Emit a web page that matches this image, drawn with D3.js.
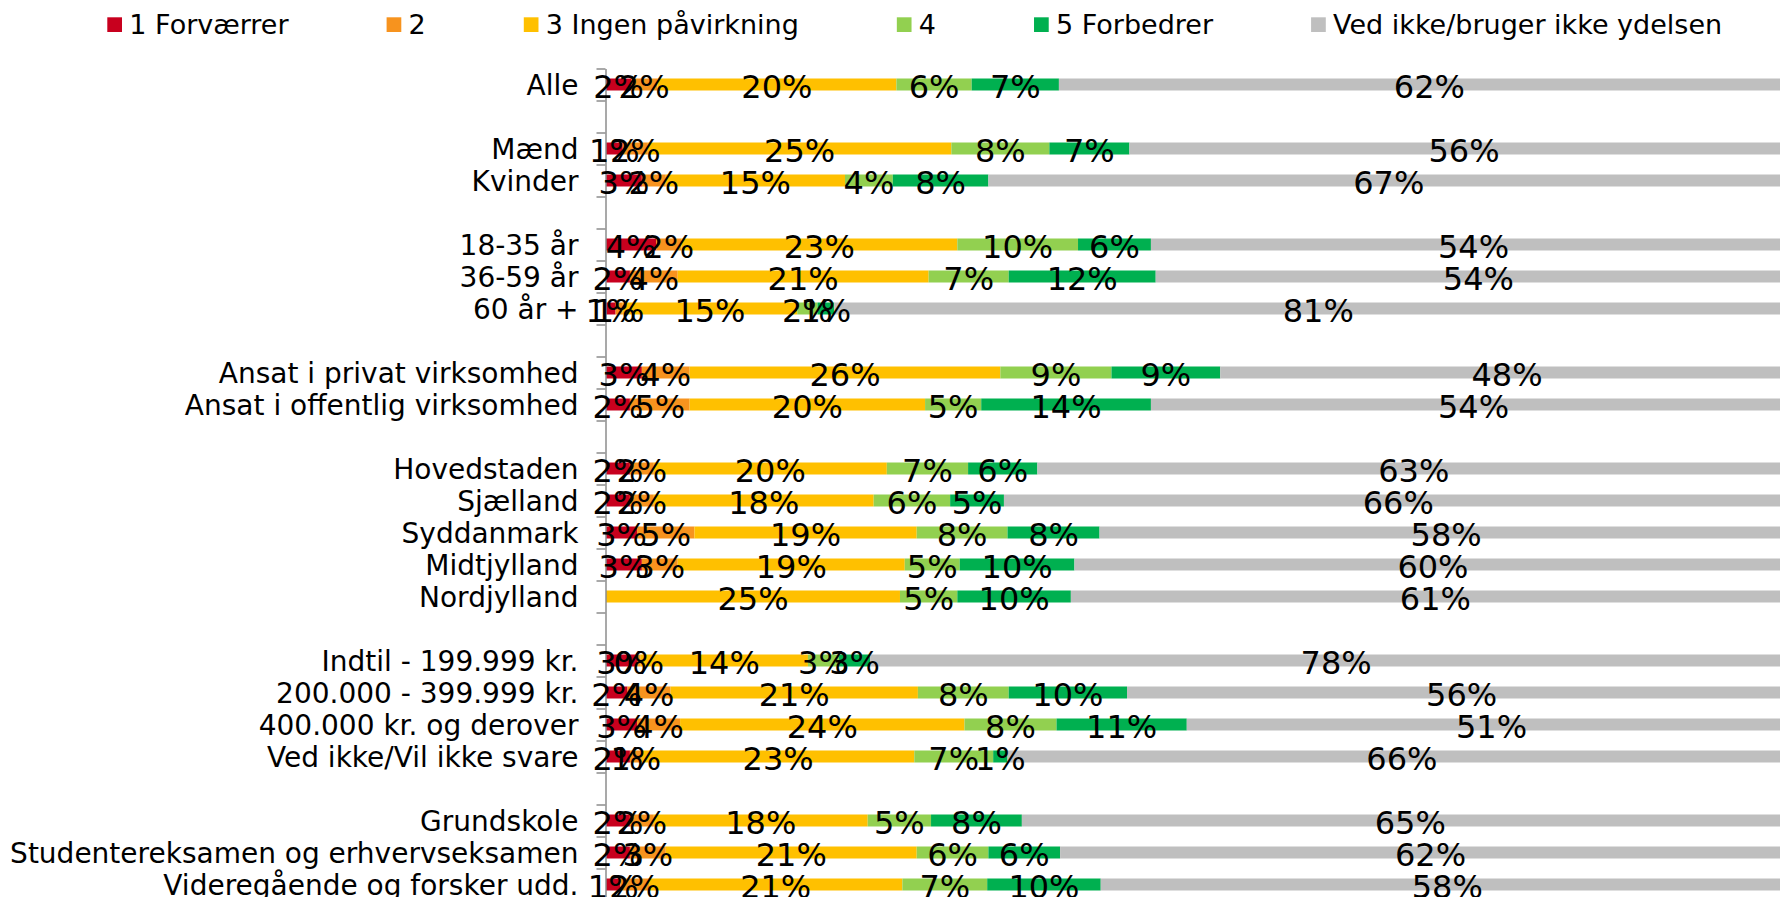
<!DOCTYPE html>
<html>
<head>
<meta charset="utf-8">
<script src="https://cdn.jsdelivr.net/npm/d3@7"></script>
<style>
  html, body { margin: 0; padding: 0; background: #fff; overflow: hidden; }
  svg { display: block; font-family: "DejaVu Sans", Verdana, sans-serif; }
</style>
</head>
<body>
<svg id="chart" width="1780" height="897"></svg>
<script>
// ---------- DATA (percent; labels show rounded values) ----------
const categories = [
  "Alle", "",
  "Mænd", "Kvinder", "",
  "18-35 år", "36-59 år", "60 år +", "",
  "Ansat i privat virksomhed", "Ansat i offentlig virksomhed", "",
  "Hovedstaden", "Sjælland", "Syddanmark", "Midtjylland", "Nordjylland", "",
  "Indtil - 199.999 kr.", "200.000 - 399.999 kr.", "400.000 kr. og derover", "Ved ikke/Vil ikke svare", "",
  "Grundskole", "Studentereksamen og erhvervseksamen", "Videregående og forsker udd."
];
const seriesNames = ["1 Forværrer", "2", "3 Ingen påvirkning", "4", "5 Forbedrer", "Ved ikke/bruger ikke ydelsen"];
const forvaerrer = [2.1, null, 1.4, 3, null, 4.2, 2, 0.8, null, 3, 2, null, 2, 2, 2.6, 3, null, null, 2.6, 1.8, 2.6, 2, null, 2, 2, 1.2];
const serie2     = [2.2, null, 2.1, 2, null, 2.1, 4, 0.6, null, 4, 5, null, 2, 2, 4.8, 3, null, null, 0.3, 3.6, 3.6, 1, null, 2, 3, 2.4];
const ingen      = [20, null, 25.4, 15, null, 23.1, 21, 14.6, null, 26, 19.7, null, 19.5, 18.4, 18.6, 19, 24.6, null, 14, 20.7, 23.8, 22.8, null, 17.9, 21, 21.2];
const serie4     = [6.3, null, 8.2, 4, null, 10.1, 6.7, 1.7, null, 9.3, 4.7, null, 6.8, 6.4, 7.6, 4.6, 4.8, null, 2.6, 7.6, 7.7, 6.6, null, 5.3, 6, 7.1];
const forbedrer  = [7.3, null, 6.7, 8, null, 6.1, 12.3, 1.4, null, 9.1, 14.2, null, 5.8, 4.5, 7.7, 9.6, 9.5, null, 2.6, 9.9, 10.9, 1.2, null, 7.6, 6, 9.5];
const vedIkke    = [62, null, 56, 67, null, 54, 54, 81, null, 48, 54, null, 63, 66, 58, 60, 61, null, 78, 56, 51, 66, null, 65, 62, 58];
const seriesColors = ["#C8001E", "#F7931E", "#FFC000", "#92D050", "#00B050", "#BFBFBF"];

// ---------- LAYOUT ----------
const axisX = 605.5;
const plotLeft = 606, plotRight100 = 1801;
const topY = 68.5, rowStep = 32;
const series = [forvaerrer, serie2, ingen, serie4, forbedrer, vedIkke];

const svg = d3.select("#chart");

const x = d3.scaleLinear().domain([0, 100]).range([plotLeft, plotRight100]);
const n = categories.length;
const y = d3.scaleBand()
  .domain(d3.range(n))
  .range([topY, topY + rowStep * n])
  .paddingInner(0.625)
  .paddingOuter(0.3125);

// stacked rows
const rows = d3.range(n).map(i => {
  let cum = 0;
  return series.map((s, k) => {
    const v = s[i];
    const seg = { row: i, k, v, x0: cum, x1: cum + (v == null ? 0 : v) };
    if (v != null) cum += v;
    return seg;
  });
});

// bars
const gBars = svg.append("g");
rows.forEach(segs => {
  segs.forEach(s => {
    if (s.v == null || s.v === 0) return;
    gBars.append("rect")
      .attr("x", x(s.x0))
      .attr("y", y(s.row))
      .attr("width", x(s.x1) - x(s.x0))
      .attr("height", y.bandwidth())
      .attr("fill", seriesColors[s.k]);
  });
});

// axis (domain line + category labels)
const gAxis = svg.append("g")
  .attr("transform", `translate(${axisX},0)`)
  .call(d3.axisLeft(y).tickSize(0).tickSizeOuter(0).tickPadding(27).tickFormat(i => categories[i]));
gAxis.select(".domain").attr("stroke", "#8c8c8c").attr("stroke-width", 1.5);
gAxis.selectAll("text")
  .attr("fill", "#000")
  .attr("font-size", "28px")
  .attr("font-family", "'DejaVu Sans', Verdana, sans-serif")
  .attr("dy", "10px");

// boundary ticks between categories
const yB = d3.scaleLinear().domain([0, n]).range([topY, topY + rowStep * n]);
const gTicks = svg.append("g")
  .attr("transform", `translate(${axisX},0)`)
  .call(d3.axisLeft(yB).tickValues(d3.range(n + 1)).tickSize(9).tickFormat(""));
gTicks.select(".domain").remove();
gTicks.selectAll("line").attr("stroke", "#8c8c8c").attr("stroke-width", 1.5);

// data labels
const gLabels = svg.append("g")
  .attr("font-size", "32px")
  .attr("text-anchor", "middle")
  .attr("fill", "#000");
for (let k = 0; k < series.length; k++) {
  rows.forEach(segs => {
    const s = segs[k];
    if (s.v == null) return;
    gLabels.append("text")
      .attr("x", x((s.x0 + s.x1) / 2))
      .attr("y", y(s.row) + y.bandwidth() / 2 + 13.5)
      .text(Math.round(s.v) + "%");
  });
}

// legend
const gLeg = svg.append("g").attr("font-size", "27px").attr("fill", "#000");
let lx = 107.3;
seriesNames.forEach((name, k) => {
  gLeg.append("rect")
    .attr("x", lx).attr("y", 17.3)
    .attr("width", 14.7).attr("height", 14.7)
    .attr("fill", seriesColors[k]);
  const t = gLeg.append("text")
    .attr("x", lx + 22).attr("y", 34.3)
    .text(name);
  lx = lx + 22 + t.node().getComputedTextLength() + 98;
});
</script>
</body>
</html>
